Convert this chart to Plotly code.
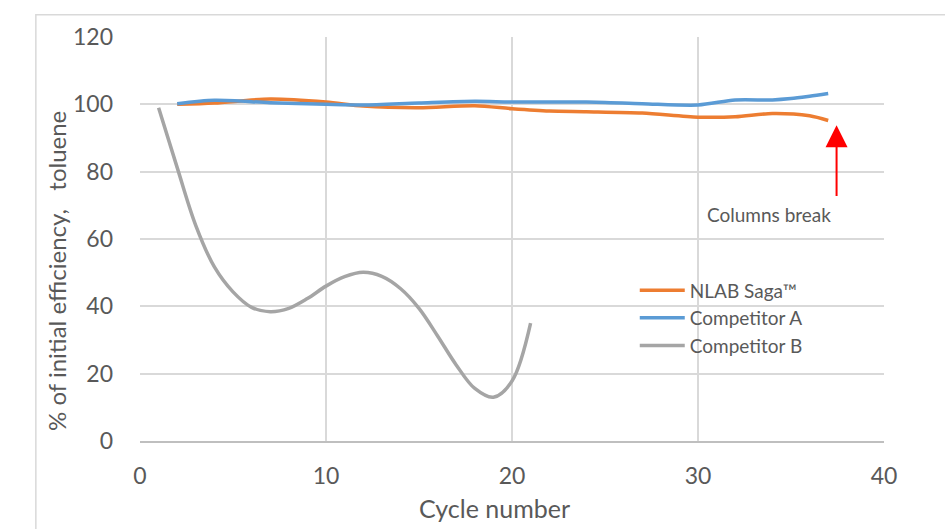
import plotly.graph_objects as go

# ---- data ----
saga_x = [2, 4, 7, 10, 12, 15, 18, 20, 22, 24, 27, 30, 32, 34, 36, 37]
saga_y = [100, 100.4, 101.6, 100.7, 99.5, 99.0, 99.6, 98.7, 98.0, 97.8, 97.4, 96.2, 96.3, 97.3, 96.6, 95.2]

compA_x = [2, 4, 7, 10, 12, 15, 18, 20, 24, 27, 30, 32, 34, 35, 36, 37]
compA_y = [100.2, 101.2, 100.5, 100.0, 99.8, 100.4, 100.9, 100.7, 100.7, 100.2, 99.8, 101.3, 101.3, 101.7, 102.4, 103.2]

compB_x = [1, 2, 3, 4, 5, 6, 7, 8, 9, 10, 11, 12, 13, 14, 15, 16, 17, 18, 19, 20, 21]
compB_y = [99, 81.2, 64.0, 51.7, 44.3, 39.7, 38.4, 39.4, 42.3, 46.0, 48.8, 50.1, 48.9, 45.3, 39.4, 31.2, 22.6, 15.6, 13.0, 17.8, 35.0]

x_ticks = [0, 10, 20, 30, 40]
y_ticks = [0, 20, 40, 60, 80, 100, 120]

FONT = "Lato, 'Open Sans', sans-serif"
TXT = "#595959"

fig = go.Figure()
fig.add_trace(go.Scatter(x=saga_x, y=saga_y, mode="lines", name="NLAB Saga™",
                         line=dict(color="#ED7D31", width=3.5, shape="spline", smoothing=0.8)))
fig.add_trace(go.Scatter(x=compA_x, y=compA_y, mode="lines", name="Competitor A",
                         line=dict(color="#5B9BD5", width=3.5, shape="spline", smoothing=0.8)))
fig.add_trace(go.Scatter(x=compB_x, y=compB_y, mode="lines", name="Competitor B",
                         line=dict(color="#A5A5A5", width=3.5, shape="spline", smoothing=1.0)))

fig.add_annotation(x=37.45, y=93.8, ax=37.45, ay=72.3, xref="x", yref="y", axref="x", ayref="y",
                   text="", showarrow=True, arrowhead=2, arrowsize=2.2, arrowwidth=2, arrowcolor="#FF0000")
fig.add_annotation(x=33.8, y=67.4, xref="x", yref="y", text="Columns break", showarrow=False,
                   font=dict(family=FONT, size=19, color=TXT))

# axis titles (placed as in the original, slightly off-centre)
fig.add_annotation(xref="paper", yref="paper", x=-0.1116, y=0.421, text="% of initial efficiency,   toluene",
                   textangle=-90, showarrow=False, xanchor="center", yanchor="middle",
                   font=dict(family=FONT, size=24, color=TXT))
fig.add_annotation(xref="paper", yref="paper", x=0.476, y=-0.166, text="Cycle number",
                   showarrow=False, xanchor="center", yanchor="middle",
                   font=dict(family=FONT, size=25, color=TXT))

fig.add_shape(type="rect", xref="paper", yref="paper", x0=-0.14, x1=1.12, y0=-0.3, y1=1.055,
              line=dict(color="#D9D9D9", width=1.5), layer="below")

fig.update_layout(
    width=945, height=529,
    margin=dict(l=140, r=61, t=37, b=88),
    paper_bgcolor="white", plot_bgcolor="white",
    font=dict(family=FONT, color=TXT),
    showlegend=True,
    legend=dict(x=0.665, y=0.42, xanchor="left", yanchor="top", bgcolor="rgba(0,0,0,0)",
                font=dict(family=FONT, size=19, color=TXT), itemwidth=45, tracegroupgap=0),
    xaxis=dict(range=[0, 40], tickvals=x_ticks, showgrid=True, gridcolor="#D9D9D9", gridwidth=1.5,
               zeroline=False, showline=True, linecolor="#BFBFBF", linewidth=1.5,
               tickfont=dict(family=FONT, size=23, color=TXT), ticklabelstandoff=14),
    yaxis=dict(range=[0, 120], tickvals=y_ticks, showgrid=True, gridcolor="#D9D9D9", gridwidth=1.5,
               zeroline=False, showline=False,
               tickfont=dict(family=FONT, size=23, color=TXT), ticklabelstandoff=26),
)

fig.write_html("out.html")
